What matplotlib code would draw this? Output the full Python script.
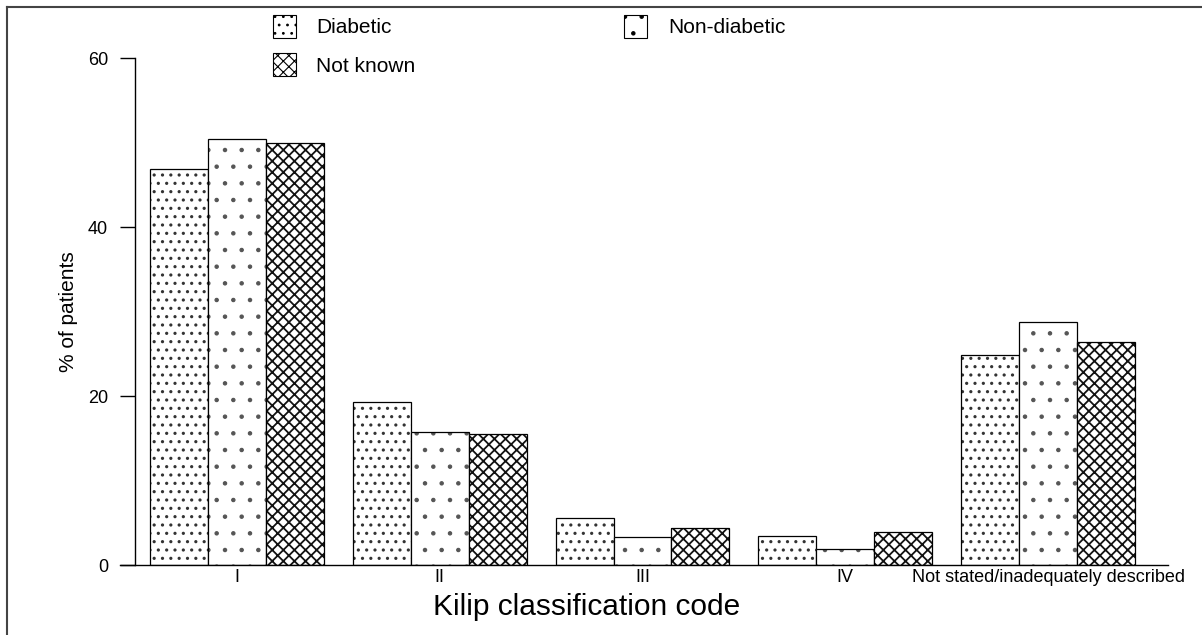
import matplotlib
matplotlib.use("Agg")
import matplotlib.pyplot as plt
import numpy as np
from matplotlib.patches import Patch
from matplotlib.lines import Line2D

plt.rcParams['font.family'] = ['Liberation Sans', 'DejaVu Sans']
plt.rcParams['hatch.linewidth'] = 0.8

categories = ["I", "II", "III", "IV", "Not stated/inadequately described"]
series_names = ["Diabetic", "Non-diabetic", "Not known"]
diabetic = [46.9, 19.3, 5.6, 3.4, 24.9]
non_diabetic = [50.5, 15.8, 3.3, 1.9, 28.8]
not_known = [50.0, 15.5, 4.35, 3.9, 26.4]
yticks = [0, 20, 40, 60]

W, H = 1202, 635
fig = plt.figure(figsize=(W / 100, H / 100), dpi=100)
ax = fig.add_axes([120 / W, 1 - 565 / H, 1048 / W, (565 - 58.3) / H])

x = np.arange(len(categories))
bw = 0.286
hatches = ['..', '.', 'xxx']
hatch_colors = ['#333333', '#555555', '#111111']
hatch_lw = [1.1, 0.8, 1.3]
series = [diabetic, non_diabetic, not_known]


def set_hlw(p, lw):
    try:
        p.set_hatch_linewidth(lw)
    except Exception:
        pass


for i, (vals, h, name) in enumerate(zip(series, hatches, series_names)):
    # hatch layer (tinted), then outline layer
    hb = ax.bar(x + (i - 1) * bw, vals, width=bw, facecolor='white', edgecolor=hatch_colors[i],
                hatch=h, linewidth=0)
    for b in hb:
        set_hlw(b, hatch_lw[i])
    ax.bar(x + (i - 1) * bw, vals, width=bw, facecolor='none', edgecolor='black',
           linewidth=0.9, label=name)

ax.set_xlim(-117 / 202.75, 931 / 202.75)
ax.set_ylim(0, 60)
ax.spines['top'].set_visible(False)
ax.spines['right'].set_visible(False)
ax.spines['left'].set_position(('axes', 15 / 1048))
ax.spines['left'].set_bounds(0, 60)
for s in ['left', 'bottom']:
    ax.spines[s].set_linewidth(1.0)

ax.set_yticks(yticks)
ax.set_yticklabels([str(v) for v in yticks])
ax.tick_params(axis='y', length=10.8, width=1.0, pad=8.6, labelsize=13, direction='out')
ax.set_xticks(x)
ax.set_xticklabels(categories)
ax.tick_params(axis='x', length=0, pad=3, labelsize=13)

ax.set_xlabel("Kilip classification code", fontsize=21.5)
ax.xaxis.set_label_coords(0.445, -0.055)
ax.set_ylabel("% of patients", fontsize=15)
ax.yaxis.set_label_coords(-0.040, 0.5)

order = [0, 2, 1]
handles = []
for k in order:
    p = Patch(facecolor='white', edgecolor='black', hatch=hatches[k], linewidth=0.8)
    set_hlw(p, hatch_lw[k])
    handles.append(p)
labels = [series_names[k] for k in order]
fig.legend(handles, labels, ncol=2, loc='upper left',
           bbox_to_anchor=(272.7 / W, 1 - 15 / H), frameon=False, fontsize=15,
           handlelength=1.1, handleheight=1.3, handletextpad=1.0,
           columnspacing=10.0, labelspacing=0.75, borderpad=0, borderaxespad=0)

# figure frame (top and left lines)
fig.add_artist(Line2D([7 / W, 1], [1 - 7 / H, 1 - 7 / H], transform=fig.transFigure,
                      color='#444444', linewidth=1.5))
fig.add_artist(Line2D([7 / W, 7 / W], [0, 1 - 7 / H], transform=fig.transFigure,
                      color='#444444', linewidth=1.5))

fig.savefig("out.png", dpi=100)
